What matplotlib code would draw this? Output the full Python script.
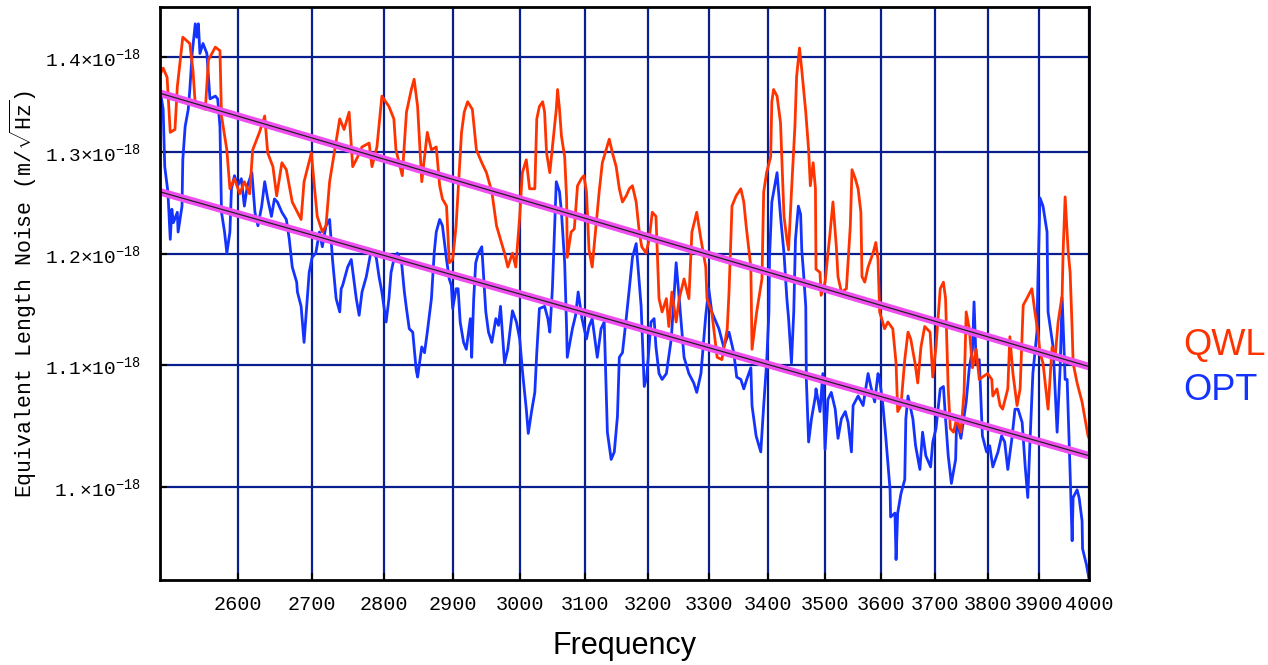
import numpy as np
import matplotlib
matplotlib.use("Agg")
import matplotlib.pyplot as plt

plt.rcParams['mathtext.fontset'] = 'custom'
plt.rcParams['mathtext.rm'] = 'Liberation Mono'
plt.rcParams['mathtext.it'] = 'Liberation Mono'
plt.rcParams['mathtext.tt'] = 'Liberation Mono'

###------------- data (amplitudes in units of 1e-18 m/sqrt(Hz)) -------------###
scale = 1e-18

qwl_freq = [2500, 2504, 2509, 2513, 2519, 2522, 2529, 2538, 2542, 2545, 2558, 2562, 2571, 2577,
            2579, 2586, 2590, 2596, 2603, 2609, 2616, 2620, 2629, 2636, 2640, 2647, 2652, 2659,
            2665, 2673, 2685, 2689, 2699, 2703, 2707, 2714, 2719, 2724, 2731, 2738, 2744, 2751,
            2756, 2763, 2769, 2779, 2783, 2790, 2797, 2807, 2814, 2817, 2826, 2832, 2839, 2843,
            2848, 2854, 2858, 2862, 2868, 2875, 2880, 2884, 2890, 2894, 2899, 2904, 2912, 2916,
            2921, 2928, 2934, 2942, 2949, 2957, 2964, 2976, 2981, 2988, 2993, 2999, 3003, 3009,
            3014, 3022, 3025, 3029, 3034, 3037, 3040, 3045, 3049, 3055, 3057, 3060, 3063, 3068,
            3071, 3072, 3078, 3083, 3088, 3094, 3098, 3102, 3106, 3111, 3117, 3122, 3127, 3133,
            3138, 3143, 3149, 3154, 3159, 3165, 3170, 3175, 3181, 3186, 3190, 3197, 3202, 3207,
            3213, 3218, 3223, 3230, 3234, 3239, 3246, 3251, 3259, 3267, 3272, 3280, 3287, 3295,
            3297, 3305, 3314, 3322, 3331, 3334, 3339, 3346, 3354, 3359, 3363, 3371, 3373, 3381,
            3390, 3393, 3398, 3405, 3407, 3410, 3416, 3422, 3428, 3433, 3436, 3441, 3447, 3450,
            3455, 3459, 3466, 3471, 3474, 3479, 3483, 3484, 3491, 3493, 3500, 3509, 3514, 3520,
            3523, 3529, 3538, 3545, 3548, 3554, 3559, 3564, 3566, 3571, 3577, 3586, 3591, 3595,
            3598, 3607, 3613, 3622, 3628, 3631, 3637, 3644, 3650, 3655, 3663, 3668, 3674, 3681,
            3691, 3696, 3702, 3710, 3716, 3720, 3725, 3729, 3735, 3741, 3749, 3755, 3759, 3765,
            3771, 3778, 3784, 3790, 3800, 3808, 3810, 3818, 3824, 3829, 3839, 3843, 3849, 3857,
            3863, 3869, 3876, 3886, 3892, 3898, 3902, 3908, 3918, 3926, 3932, 3938, 3946, 3948,
            3952, 3958, 3962, 3966, 3968, 3976, 3986, 3992, 3998, 4000]
qwl_amp = [1.381, 1.388, 1.378, 1.320, 1.323, 1.368, 1.422, 1.415, 1.386, 1.349, 1.344, 1.397, 1.411, 1.407,
           1.337, 1.302, 1.263, 1.273, 1.258, 1.270, 1.258, 1.302, 1.320, 1.337, 1.299, 1.285, 1.256, 1.289,
           1.282, 1.250, 1.233, 1.270, 1.299, 1.266, 1.236, 1.221, 1.227, 1.270, 1.302, 1.334, 1.323, 1.341,
           1.285, 1.295, 1.305, 1.309, 1.285, 1.305, 1.358, 1.347, 1.334, 1.302, 1.276, 1.341, 1.365, 1.376,
           1.347, 1.270, 1.295, 1.320, 1.302, 1.305, 1.266, 1.253, 1.246, 1.192, 1.195, 1.227, 1.320, 1.341,
           1.352, 1.344, 1.302, 1.289, 1.279, 1.260, 1.227, 1.201, 1.188, 1.201, 1.188, 1.236, 1.279, 1.292,
           1.263, 1.263, 1.334, 1.347, 1.352, 1.341, 1.299, 1.279, 1.305, 1.344, 1.365, 1.344, 1.316, 1.295,
           1.253, 1.197, 1.221, 1.224, 1.266, 1.273, 1.276, 1.260, 1.204, 1.188, 1.227, 1.260, 1.289, 1.302,
           1.313, 1.299, 1.285, 1.263, 1.250, 1.256, 1.263, 1.266, 1.250, 1.221, 1.207, 1.201, 1.214, 1.240,
           1.236, 1.159, 1.147, 1.159, 1.134, 1.165, 1.138, 1.159, 1.177, 1.159, 1.221, 1.240, 1.214, 1.188,
           1.159, 1.147, 1.107, 1.105, 1.132, 1.165, 1.246, 1.256, 1.263, 1.250, 1.227, 1.188, 1.114, 1.147,
           1.177, 1.260, 1.279, 1.295, 1.352, 1.365, 1.358, 1.330, 1.236, 1.214, 1.204, 1.260, 1.326, 1.379,
           1.410, 1.386, 1.341, 1.302, 1.266, 1.289, 1.263, 1.186, 1.183, 1.162, 1.174, 1.221, 1.250, 1.207,
           1.179, 1.165, 1.168, 1.227, 1.282, 1.273, 1.263, 1.240, 1.179, 1.174, 1.188, 1.201, 1.211, 1.195,
           1.147, 1.132, 1.138, 1.132, 1.102, 1.061, 1.066, 1.105, 1.129, 1.123, 1.102, 1.085, 1.116, 1.134,
           1.129, 1.090, 1.116, 1.168, 1.174, 1.159, 1.080, 1.047, 1.044, 1.055, 1.044, 1.077, 1.147, 1.132,
           1.098, 1.114, 1.088, 1.090, 1.093, 1.088, 1.074, 1.080, 1.066, 1.063, 1.080, 1.125, 1.093, 1.066,
           1.080, 1.153, 1.159, 1.168, 1.147, 1.129, 1.111, 1.102, 1.063, 1.116, 1.107, 1.138, 1.162, 1.203,
           1.255, 1.203, 1.183, 1.132, 1.102, 1.085, 1.069, 1.055, 1.041, 1.039]

opt_freq = [2500, 2504, 2506, 2510, 2513, 2515, 2517, 2522, 2523, 2528, 2529, 2532, 2536, 2538,
            2541, 2545, 2547, 2549, 2551, 2555, 2560, 2562, 2564, 2571, 2574, 2577, 2579, 2583,
            2586, 2590, 2592, 2596, 2600, 2605, 2609, 2613, 2619, 2623, 2627, 2632, 2636, 2640,
            2645, 2649, 2653, 2659, 2665, 2669, 2673, 2679, 2680, 2685, 2689, 2692, 2696, 2700,
            2705, 2710, 2714, 2719, 2724, 2728, 2733, 2738, 2740, 2742, 2749, 2754, 2758, 2761,
            2765, 2769, 2775, 2782, 2789, 2793, 2797, 2803, 2807, 2810, 2814, 2819, 2825, 2829,
            2832, 2836, 2841, 2846, 2848, 2854, 2858, 2862, 2868, 2872, 2875, 2880, 2884, 2890,
            2894, 2897, 2899, 2904, 2907, 2910, 2915, 2919, 2925, 2927, 2930, 2933, 2937, 2942,
            2948, 2952, 2957, 2963, 2967, 2970, 2976, 2981, 2988, 2994, 2999, 3003, 3009, 3012,
            3017, 3022, 3025, 3029, 3037, 3042, 3045, 3048, 3049, 3055, 3060, 3063, 3068, 3071,
            3072, 3080, 3085, 3089, 3095, 3102, 3106, 3111, 3119, 3125, 3130, 3135, 3141, 3146,
            3151, 3154, 3159, 3165, 3170, 3175, 3181, 3186, 3189, 3194, 3198, 3205, 3210, 3213,
            3218, 3223, 3230, 3238, 3246, 3251, 3259, 3267, 3275, 3280, 3287, 3295, 3300, 3305,
            3317, 3325, 3334, 3342, 3347, 3354, 3359, 3364, 3371, 3373, 3380, 3388, 3393, 3398,
            3402, 3403, 3407, 3416, 3422, 3428, 3433, 3436, 3441, 3445, 3448, 3453, 3457, 3459,
            3462, 3466, 3467, 3471, 3476, 3483, 3484, 3491, 3496, 3500, 3505, 3511, 3518, 3523,
            3529, 3536, 3541, 3547, 3550, 3559, 3568, 3577, 3582, 3589, 3595, 3598, 3604, 3609,
            3617, 3618, 3626, 3628, 3631, 3637, 3644, 3646, 3650, 3659, 3664, 3672, 3677, 3683,
            3692, 3696, 3702, 3710, 3716, 3720, 3725, 3731, 3739, 3741, 3749, 3759, 3765, 3771,
            3774, 3778, 3784, 3790, 3798, 3804, 3810, 3820, 3827, 3833, 3839, 3847, 3853, 3859,
            3867, 3873, 3878, 3882, 3888, 3896, 3898, 3902, 3908, 3916, 3918, 3928, 3936, 3942,
            3946, 3952, 3956, 3962, 3966, 3968, 3976, 3980, 3986, 3987, 3995, 4000]
opt_amp = [1.365, 1.344, 1.285, 1.260, 1.214, 1.243, 1.230, 1.240, 1.221, 1.246, 1.292, 1.326, 1.344, 1.365,
           1.404, 1.437, 1.422, 1.437, 1.404, 1.415, 1.404, 1.379, 1.355, 1.358, 1.355, 1.326, 1.240, 1.221,
           1.201, 1.221, 1.263, 1.276, 1.266, 1.273, 1.246, 1.266, 1.279, 1.240, 1.227, 1.246, 1.270, 1.253,
           1.236, 1.253, 1.250, 1.240, 1.233, 1.214, 1.188, 1.174, 1.165, 1.152, 1.120, 1.147, 1.183, 1.197,
           1.201, 1.221, 1.207, 1.227, 1.233, 1.195, 1.159, 1.147, 1.168, 1.171, 1.188, 1.195, 1.174, 1.159,
           1.144, 1.165, 1.179, 1.204, 1.197, 1.179, 1.165, 1.138, 1.159, 1.183, 1.195, 1.201, 1.192, 1.165,
           1.150, 1.132, 1.129, 1.096, 1.090, 1.116, 1.111, 1.129, 1.159, 1.201, 1.221, 1.233, 1.227, 1.195,
           1.177, 1.171, 1.150, 1.168, 1.168, 1.138, 1.120, 1.114, 1.141, 1.107, 1.159, 1.192, 1.201, 1.207,
           1.147, 1.129, 1.120, 1.141, 1.135, 1.152, 1.102, 1.114, 1.148, 1.138, 1.123, 1.096, 1.063, 1.043,
           1.061, 1.077, 1.111, 1.150, 1.152, 1.141, 1.129, 1.159, 1.168, 1.270, 1.260, 1.240, 1.192, 1.132,
           1.107, 1.132, 1.144, 1.165, 1.141, 1.123, 1.134, 1.141, 1.107, 1.132, 1.138, 1.044, 1.022, 1.028,
           1.057, 1.107, 1.111, 1.141, 1.168, 1.197, 1.210, 1.174, 1.152, 1.082, 1.090, 1.138, 1.141, 1.116,
           1.093, 1.088, 1.093, 1.123, 1.192, 1.159, 1.107, 1.093, 1.085, 1.077, 1.093, 1.144, 1.168, 1.147,
           1.132, 1.116, 1.129, 1.111, 1.090, 1.088, 1.080, 1.088, 1.098, 1.066, 1.041, 1.028, 1.066, 1.102,
           1.147, 1.197, 1.250, 1.279, 1.236, 1.201, 1.159, 1.141, 1.102, 1.147, 1.214, 1.246, 1.238, 1.204,
           1.183, 1.152, 1.088, 1.036, 1.055, 1.074, 1.080, 1.061, 1.093, 1.030, 1.071, 1.077, 1.063, 1.039,
           1.055, 1.061, 1.052, 1.028, 1.066, 1.074, 1.066, 1.093, 1.082, 1.069, 1.093, 1.088, 1.066, 1.041,
           0.998, 0.977, 0.980, 0.945, 0.980, 0.995, 1.006, 1.055, 1.074, 1.055, 1.033, 1.014, 1.044, 1.025,
           1.016, 1.036, 1.047, 1.080, 1.082, 1.055, 1.025, 1.003, 1.022, 1.055, 1.039, 1.069, 1.098, 1.114,
           1.156, 1.102, 1.105, 1.041, 1.028, 1.033, 1.016, 1.028, 1.041, 1.036, 1.014, 1.039, 1.063, 1.063,
           1.052, 1.016, 0.992, 1.033, 1.093, 1.129, 1.177, 1.254, 1.246, 1.221, 1.147, 1.116, 1.044, 1.098,
           1.160, 1.088, 1.088, 1.011, 0.959, 0.992, 0.998, 0.992, 0.974, 0.953, 0.941, 0.931]

# power-law fits (straight lines on log-log axes)
fit_freq = [2500, 4000]
qwl_fit = [1.361, 1.099]
opt_fit = [1.260, 1.025]

xticks = [2600, 2700, 2800, 2900, 3000, 3100, 3200, 3300, 3400, 3500, 3600, 3700, 3800, 3900, 4000]
yticks = [1.0, 1.1, 1.2, 1.3, 1.4]
ytick_labels = [r'$1.{\times}10^{-18}$', r'$1.1{\times}10^{-18}$', r'$1.2{\times}10^{-18}$',
                r'$1.3{\times}10^{-18}$', r'$1.4{\times}10^{-18}$']

###------------- plot -------------###
red = '#ff3300'
blue = '#1433ff'
magenta = '#f04ff0'
grid_col = '#0a1f8f'
mono = 'Liberation Mono'

fig = plt.figure(figsize=(12.68, 6.65), dpi=100)
ax = fig.add_axes([160/1268, 85/665, 929/1268, 573/665])

ax.plot(opt_freq, np.array(opt_amp)*scale, color=blue, lw=2.0, zorder=3)
ax.plot(qwl_freq, np.array(qwl_amp)*scale, color=red, lw=2.0, zorder=4)

for fit in (qwl_fit, opt_fit):
    ax.plot(fit_freq, np.array(fit)*scale, color=magenta, lw=5.5, zorder=5, solid_capstyle='butt')
    ax.plot(fit_freq, np.array(fit)*scale, color='#222222', lw=0.9, zorder=6)

ax.set_xscale('log')
ax.set_yscale('log')
ax.set_xlim(2500, 4000)
ax.set_ylim(0.930*scale, 1.456*scale)

ax.set_xticks(xticks)
ax.set_xticklabels([str(t) for t in xticks], fontfamily=mono, fontsize=14.5)
ax.set_yticks([v*scale for v in yticks])
ax.set_yticklabels(ytick_labels, fontsize=14)
ax.minorticks_off()
ax.tick_params(direction='in', length=5, width=1.5, color='black', labelcolor='black')
ax.tick_params(axis='x', pad=11)
ax.tick_params(axis='y', pad=14)

ax.grid(True, color=grid_col, lw=1.6, zorder=1)
ax.set_axisbelow(True)
for sp in ax.spines.values():
    sp.set_linewidth(2)
    sp.set_color('black')
    sp.set_zorder(7)

ax.set_xlabel('Frequency', fontsize=22, fontfamily='Liberation Sans', labelpad=12)
ax.set_ylabel(r'Equivalent Length Noise (m/$\sqrt{\mathrm{Hz}}$)', fontsize=15.5, fontfamily=mono,
              labelpad=4)

fig.text(1183/1268, 1 - 345/665, 'QWL', color=red, fontsize=26, fontfamily='Liberation Sans',
         ha='left', va='center')
fig.text(1183/1268, 1 - 390/665, 'OPT', color=blue, fontsize=26, fontfamily='Liberation Sans',
         ha='left', va='center')

plt.savefig('out.png', dpi=100)
